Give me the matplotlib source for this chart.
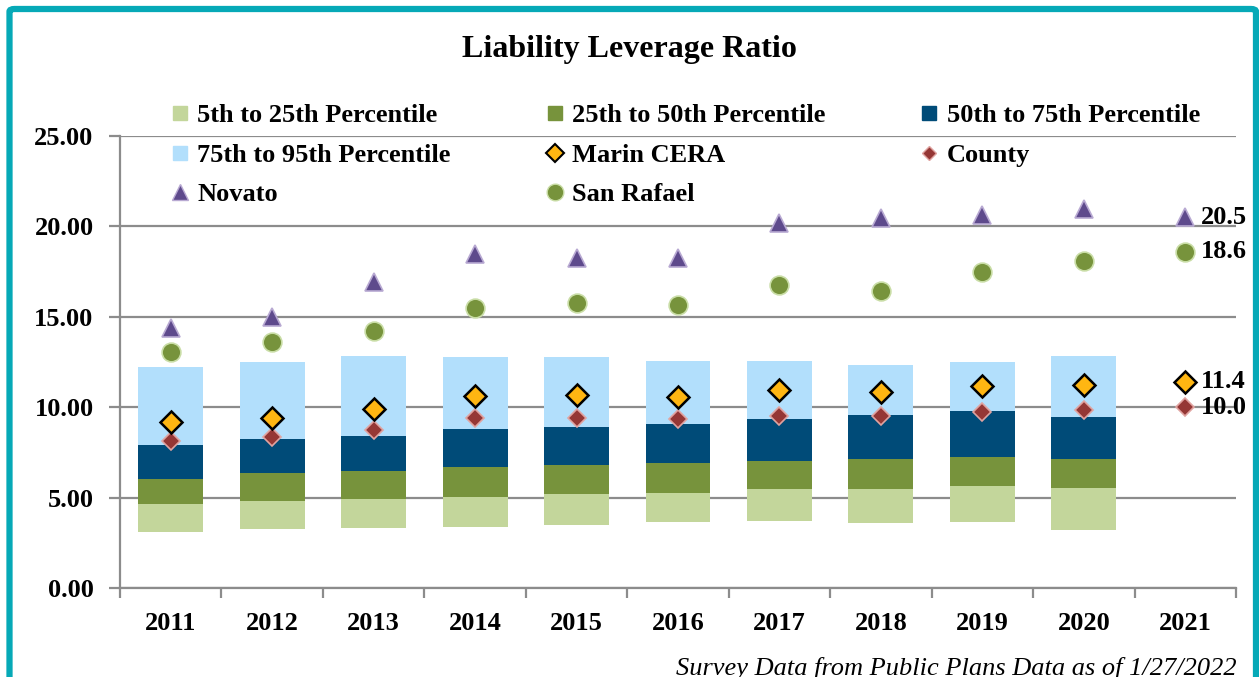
import matplotlib
matplotlib.use("Agg")
import matplotlib.pyplot as plt
import numpy as np
from matplotlib.lines import Line2D
from matplotlib.patches import FancyBboxPatch

years = ['2011', '2012', '2013', '2014', '2015', '2016', '2017', '2018', '2019', '2020', '2021']

# percentile boundaries (2021 has no survey bar)
p5 = [3.10, 3.25, 3.30, 3.39, 3.50, 3.65, 3.72, 3.58, 3.65, 3.21]
p25 = [4.65, 4.83, 4.92, 5.05, 5.18, 5.27, 5.48, 5.48, 5.62, 5.55]
p50 = [6.03, 6.34, 6.45, 6.67, 6.80, 6.90, 7.02, 7.12, 7.25, 7.12]
p75 = [7.90, 8.22, 8.41, 8.81, 8.92, 9.09, 9.37, 9.59, 9.81, 9.44]
p95 = [12.20, 12.48, 12.83, 12.78, 12.78, 12.55, 12.55, 12.33, 12.48, 12.85]

marin = [9.20, 9.39, 9.88, 10.62, 10.67, 10.58, 10.95, 10.82, 11.17, 11.23, 11.4]
county = [8.15, 8.37, 8.74, 9.38, 9.42, 9.35, 9.53, 9.53, 9.75, 9.85, 10.0]
novato = [14.40, 14.97, 16.90, 18.47, 18.23, 18.23, 20.17, 20.45, 20.63, 20.94, 20.5]
san_rafael = [13.05, 13.59, 14.23, 15.50, 15.75, 15.65, 16.76, 16.45, 17.50, 18.09, 18.6]

c_lgreen = '#C3D69B'
c_green = '#77933C'
c_navy = '#004B78'
c_lblue = '#B2DFFC'
c_teal = '#06A9B7'
c_grid = '#8C8C8C'

plt.rcParams['font.family'] = ['Liberation Serif', 'DejaVu Serif']
plt.rcParams['font.weight'] = 'bold'

fig = plt.figure(figsize=(12.59, 6.77), dpi=100)
ax = fig.add_axes([120 / 1259, 1 - 588 / 677, 1116 / 1259, 452 / 677])

x = np.arange(len(years))
xb = x[:len(p5)]
w = 0.64
segs = [(p5, p25, c_lgreen), (p25, p50, c_green), (p50, p75, c_navy), (p75, p95, c_lblue)]
for lo, hi, col in segs:
    lo = np.array(lo)
    hi = np.array(hi)
    ax.bar(xb, hi - lo, bottom=lo, width=w, color=col, linewidth=0, zorder=2)

ax.plot(x, novato, ls='none', marker='^', ms=13, color='#5E4A8C', mec='#B8A9D2', mew=1.2, zorder=4)
ax.plot(x, san_rafael, ls='none', marker='o', ms=13.5, color=c_green, mec='#C9DDA6', mew=1.2, zorder=4)
ax.plot(x, marin, ls='none', marker='D', ms=11.5, color='#FFB612', mec='black', mew=1.8, zorder=5)
ax.plot(x, county, ls='none', marker='D', ms=9, color='#953735', mec='#E0A3A0', mew=1.2, zorder=4)

# data labels for the latest year
last = len(years) - 1
for series in (novato, san_rafael, marin, county):
    ax.annotate(f'{series[last]:.1f}', (x[last], series[last]), xytext=(11, 0),
                textcoords='offset points', va='center', ha='left', fontsize=19,
                fontweight='bold', annotation_clip=False)

ax.set_xlim(-0.5, len(years) - 0.5)
ax.set_ylim(0, 25)
ax.set_yticks(np.arange(0, 25.1, 5))
ax.set_yticklabels([f'{v:.2f}' for v in np.arange(0, 25.1, 5)])
ax.yaxis.grid(True, color=c_grid, lw=1.6, zorder=0)
ax.set_axisbelow(True)
ax.set_xticks(np.arange(-0.5, len(years), 1))
ax.set_xticklabels([])
ax.set_xticks(x, minor=True)
ax.set_xticklabels(years, minor=True)
ax.tick_params(axis='x', which='major', length=7, width=1.6, color=c_grid)
ax.tick_params(axis='x', which='minor', length=0, pad=17, labelsize=19)
ax.tick_params(axis='y', length=8, width=1.6, color=c_grid, labelsize=19, pad=11)
for s in ('top', 'right'):
    ax.spines[s].set_visible(False)
for s in ('left', 'bottom'):
    ax.spines[s].set_color(c_grid)
    ax.spines[s].set_linewidth(1.6)

fig.text(0.5, 1 - 50 / 677, 'Liability Leverage Ratio', ha='center', va='center',
         fontsize=23, fontweight='bold')

def sq(col):
    return Line2D([], [], ls='none', marker='s', ms=10, color=col)

h = {
    '5th to 25th Percentile': sq(c_lgreen),
    '25th to 50th Percentile': sq(c_green),
    '50th to 75th Percentile': sq(c_navy),
    '75th to 95th Percentile': sq(c_lblue),
    'Marin CERA': Line2D([], [], ls='none', marker='D', ms=9, color='#FFB612', mec='black', mew=1.5),
    'County': Line2D([], [], ls='none', marker='D', ms=7.5, color='#953735', mec='#E0A3A0', mew=1),
    'Novato': Line2D([], [], ls='none', marker='^', ms=12, color='#5E4A8C', mec='#B8A9D2', mew=1),
    'San Rafael': Line2D([], [], ls='none', marker='o', ms=12, color=c_green, mec='#C9DDA6', mew=1),
}
order = ['5th to 25th Percentile', '75th to 95th Percentile', 'Novato',
         '25th to 50th Percentile', 'Marin CERA', 'San Rafael',
         '50th to 75th Percentile', 'County']
fig.legend([h[k] for k in order], order, ncol=3, loc='upper left',
           bbox_to_anchor=(172 / 1259, 1 - 104 / 677), frameon=False, fontsize=19,
           handlelength=0.6, handletextpad=0.35, columnspacing=3.65, labelspacing=0.6,
           borderpad=0, borderaxespad=0)

fig.text(1237 / 1259, 1 - 668 / 677, 'Survey Data from Public Plans Data as of 1/27/2022',
         ha='right', va='center', fontsize=19, fontstyle='italic', fontweight='normal')

border = FancyBboxPatch((9.5 / 1259, -30 / 677), (1256 - 9.5) / 1259, (677 + 30 - 9) / 677,
                        boxstyle='round,pad=0,rounding_size=0.004', transform=fig.transFigure,
                        fill=False, edgecolor=c_teal, lw=4.5, clip_on=False)
fig.patches.append(border)

fig.savefig('out.png', dpi=100)
